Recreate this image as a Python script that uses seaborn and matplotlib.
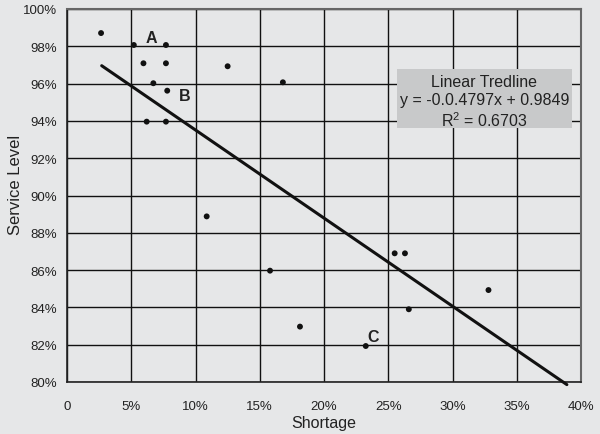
import matplotlib
matplotlib.use("Agg")
import matplotlib.pyplot as plt
import seaborn as sns
import pandas as pd
from matplotlib.ticker import FuncFormatter, MultipleLocator
from matplotlib.patches import Rectangle

# Data
shortage = [0.0265, 0.052, 0.077, 0.0595, 0.077, 0.0672, 0.078, 0.062, 0.077,
            0.125, 0.168, 0.1087, 0.158, 0.1813, 0.2325, 0.255, 0.263, 0.266, 0.328]
service = [0.9871, 0.9807, 0.9807, 0.9709, 0.9709, 0.9602, 0.9562, 0.9396, 0.9396,
           0.9693, 0.9607, 0.8888, 0.8597, 0.8297, 0.8193, 0.8690, 0.8690, 0.8390, 0.8493]
trend_x = [0.027, 0.389]
trend_y = [0.9696, 0.7986]
point_labels = ["A", "B", "C"]
point_label_x = [0.0654, 0.0918, 0.2384]
point_label_y = [0.9845, 0.9535, 0.8243]
box_lines = ["Linear Tredline", "y = -0.0.4797x + 0.9849", "R$^2$ = 0.6703"]

df = pd.DataFrame({"Shortage": shortage, "Service Level": service})
tdf = pd.DataFrame({"x": trend_x, "y": trend_y})

sns.set_theme(style="white")
plt.rcParams["font.family"] = ["Liberation Sans", "DejaVu Sans"]
plt.rcParams["mathtext.fontset"] = "custom"
plt.rcParams["mathtext.rm"] = "Liberation Sans"
bg = "#e6e7e8"

fig = plt.figure(figsize=(6, 4.35), dpi=100, facecolor=bg)
ax = fig.add_axes([67 / 600, 1 - 383 / 435, (581 - 67) / 600, (383 - 10) / 435])
ax.set_facecolor(bg)

sns.scatterplot(data=df, x="Shortage", y="Service Level", ax=ax, color="#111111",
                s=18, edgecolor="none", zorder=4)
sns.lineplot(data=tdf, x="x", y="y", ax=ax, color="#111111", linewidth=2.2, zorder=3,
             clip_on=False)

ax.set_xlim(0, 0.40)
ax.set_ylim(0.80, 1.00)
ax.xaxis.set_major_locator(MultipleLocator(0.05))
ax.yaxis.set_major_locator(MultipleLocator(0.02))
ax.xaxis.set_major_formatter(FuncFormatter(lambda v, p: "0" if abs(v) < 1e-9 else f"{v*100:.0f}%"))
ax.yaxis.set_major_formatter(FuncFormatter(lambda v, p: f"{v*100:.0f}%"))
ax.grid(True, color="#111111", linewidth=1.0)
ax.set_axisbelow(True)
ax.tick_params(axis="both", labelsize=9.5, colors="#222222", length=0, pad=7)
ax.tick_params(axis="x", pad=13)
for side in ["left", "bottom"]:
    ax.spines[side].set_color("#222222")
    ax.spines[side].set_linewidth(1.2)
for side in ["right", "top"]:
    ax.spines[side].set_color("#666666")
    ax.spines[side].set_linewidth(1.5)

ax.set_xlabel("Shortage", fontsize=11.5, color="#222222", labelpad=2)
ax.set_ylabel("Service Level", fontsize=12, color="#222222")
ax.yaxis.set_label_coords(-0.0856, 0.53)

for t, x, y in zip(point_labels, point_label_x, point_label_y):
    ax.text(x, y, t, fontsize=11.5, fontweight="bold", color="#222222",
            ha="center", va="center", zorder=5)

ax.add_patch(Rectangle((0.2568, 0.9362), 0.393 - 0.2568, 0.9678 - 0.9362,
                       facecolor="#c8c9ca", edgecolor="none", zorder=6))
ax.text(0.3249, 0.9502, "\n".join(box_lines), fontsize=11.5, color="#222222",
        ha="center", va="center", linespacing=1.22, zorder=7)

fig.savefig("out.png", dpi=100, facecolor=bg)
